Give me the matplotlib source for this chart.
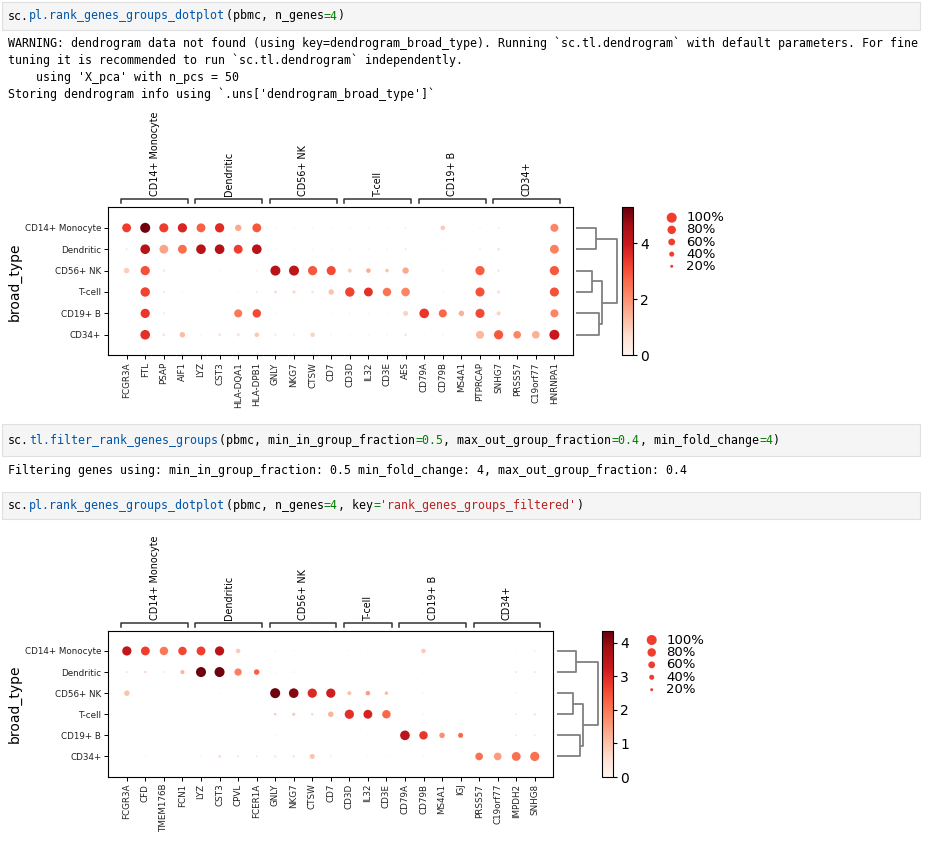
import numpy as np
import matplotlib
matplotlib.use('Agg')
import matplotlib.pyplot as plt
import matplotlib.cm as cm
from matplotlib.colors import Normalize
from matplotlib.patches import Rectangle

W, H = 927, 846

# --- DATA ---
cell_types = ['CD14+ Monocyte', 'Dendritic', 'CD56+ NK', 'T-cell', 'CD19+ B', 'CD34+']

# first dotplot (rank_genes_groups)
genes_all = ['FCGR3A', 'FTL', 'PSAP', 'AIF1', 'LYZ', 'CST3', 'HLA-DQA1', 'HLA-DPB1',
             'GNLY', 'NKG7', 'CTSW', 'CD7', 'CD3D', 'IL32', 'CD3E', 'AES',
             'CD79A', 'CD79B', 'MS4A1', 'PTPRCAP', 'SNHG7', 'PRSS57', 'C19orf77', 'HNRNPA1']
groups_all = [4, 4, 4, 4, 4, 4]
frac_all = [
    [0.85, 1.0, 0.88, 0.9, 0.85, 0.9, 0.55, 0.85, 0.08, 0.08, 0.06, 0.06, 0.08, 0.08, 0.06, 0.1, 0.0, 0.35, 0.0, 0.08, 0.1, 0.0, 0.0, 0.75],
    [0.1, 0.95, 0.85, 0.85, 0.95, 0.95, 0.85, 0.95, 0.08, 0.08, 0.06, 0.06, 0.08, 0.08, 0.08, 0.12, 0.0, 0.06, 0.0, 0.1, 0.18, 0.0, 0.0, 0.85],
    [0.45, 0.9, 0.15, 0.0, 0.0, 0.06, 0.04, 0.09, 1.0, 1.0, 0.9, 0.88, 0.3, 0.35, 0.25, 0.55, 0.0, 0.09, 0.0, 0.9, 0.16, 0.0, 0.0, 0.9],
    [0.04, 0.92, 0.12, 0.08, 0.0, 0.0, 0.06, 0.11, 0.16, 0.22, 0.18, 0.45, 0.92, 0.85, 0.8, 0.82, 0.0, 0.08, 0.0, 0.88, 0.22, 0.0, 0.0, 0.88],
    [0.0, 0.9, 0.12, 0.0, 0.0, 0.04, 0.75, 0.8, 0.06, 0.04, 0.0, 0.06, 0.08, 0.08, 0.06, 0.4, 0.95, 0.75, 0.45, 0.88, 0.3, 0.0, 0.0, 0.75],
    [0.0, 0.95, 0.18, 0.45, 0.08, 0.18, 0.22, 0.35, 0.14, 0.12, 0.35, 0.08, 0.06, 0.08, 0.08, 0.18, 0.06, 0.08, 0.0, 0.75, 0.9, 0.7, 0.7, 1.0],
]
expr_all = [
    [3.3, 5.2, 3.3, 3.7, 2.8, 3.6, 1.6, 2.9, 0.3, 0.3, 0.3, 0.3, 0.3, 0.3, 0.3, 0.4, 0.0, 1.1, 0.0, 0.3, 0.4, 0.0, 0.0, 2.2],
    [0.8, 4.3, 1.7, 2.6, 4.3, 4.4, 3.3, 4.3, 0.3, 0.3, 0.3, 0.3, 0.3, 0.3, 0.3, 0.5, 0.0, 0.3, 0.0, 0.4, 0.6, 0.0, 0.0, 2.3],
    [1.0, 3.0, 0.5, 0.0, 0.0, 0.3, 0.3, 0.4, 4.3, 4.2, 2.9, 3.1, 1.0, 1.6, 1.2, 1.6, 0.0, 0.4, 0.0, 2.8, 0.6, 0.0, 0.0, 2.9],
    [0.3, 3.2, 0.5, 0.3, 0.0, 0.0, 0.3, 0.5, 0.9, 0.8, 0.6, 1.2, 3.2, 3.5, 2.5, 2.2, 0.0, 0.3, 0.0, 3.0, 0.7, 0.0, 0.0, 3.0],
    [0.0, 3.4, 0.5, 0.0, 0.0, 0.3, 2.4, 3.1, 0.3, 0.3, 0.0, 0.3, 0.3, 0.3, 0.3, 0.9, 3.4, 2.7, 1.5, 3.1, 0.9, 0.0, 0.0, 2.2],
    [0.0, 3.5, 0.6, 1.3, 0.3, 0.6, 0.6, 1.1, 0.5, 0.5, 0.9, 0.3, 0.3, 0.3, 0.3, 0.5, 0.3, 0.3, 0.0, 1.4, 2.9, 2.2, 1.5, 4.0],
]
vmax_all = 5.29
cbar_ticks_all = [0, 2, 4]
# linkage rows: (child a, child b, height), leaves 0..5, new nodes from 6
links_all = [[2, 3, 0.38], [0, 1, 0.48], [4, 5, 0.56], [6, 8, 0.64], [7, 9, 1.0]]

# second dotplot (rank_genes_groups_filtered)
genes_filt = ['FCGR3A', 'CFD', 'TMEM176B', 'FCN1', 'LYZ', 'CST3', 'CPVL', 'FCER1A',
              'GNLY', 'NKG7', 'CTSW', 'CD7', 'CD3D', 'IL32', 'CD3E',
              'CD79A', 'CD79B', 'MS4A1', 'IGJ', 'PRSS57', 'C19orf77', 'IMPDH2', 'SNHG8']
groups_filt = [4, 4, 4, 3, 4, 4]
frac_filt = [
    [0.9, 0.85, 0.8, 0.8, 0.85, 0.9, 0.35, 0.0, 0.08, 0.06, 0.04, 0.04, 0.06, 0.06, 0.04, 0.0, 0.35, 0.0, 0.0, 0.0, 0.0, 0.06, 0.09],
    [0.1, 0.14, 0.1, 0.3, 1.0, 1.0, 0.65, 0.45, 0.08, 0.09, 0.04, 0.06, 0.06, 0.06, 0.06, 0.0, 0.06, 0.0, 0.0, 0.0, 0.0, 0.12, 0.12],
    [0.45, 0.0, 0.0, 0.0, 0.0, 0.06, 0.0, 0.0, 1.0, 0.95, 0.9, 0.9, 0.3, 0.35, 0.25, 0.0, 0.08, 0.0, 0.0, 0.0, 0.0, 0.08, 0.04],
    [0.04, 0.0, 0.0, 0.0, 0.0, 0.0, 0.0, 0.0, 0.16, 0.22, 0.18, 0.45, 0.9, 0.85, 0.8, 0.0, 0.08, 0.0, 0.0, 0.0, 0.0, 0.1, 0.14],
    [0.0, 0.0, 0.0, 0.0, 0.0, 0.04, 0.0, 0.0, 0.06, 0.0, 0.0, 0.0, 0.04, 0.06, 0.04, 0.95, 0.8, 0.45, 0.4, 0.0, 0.0, 0.11, 0.1],
    [0.0, 0.06, 0.0, 0.0, 0.08, 0.18, 0.11, 0.11, 0.14, 0.16, 0.4, 0.09, 0.04, 0.06, 0.06, 0.04, 0.06, 0.0, 0.0, 0.7, 0.7, 0.85, 0.9],
]
expr_filt = [
    [3.4, 2.7, 2.0, 2.6, 2.7, 3.5, 0.9, 0.0, 0.3, 0.3, 0.3, 0.3, 0.3, 0.3, 0.3, 0.0, 0.9, 0.0, 0.0, 0.0, 0.0, 0.3, 0.4],
    [0.6, 0.8, 0.5, 1.2, 4.3, 4.3, 1.9, 2.3, 0.3, 0.3, 0.3, 0.3, 0.3, 0.3, 0.3, 0.0, 0.3, 0.0, 0.0, 0.0, 0.0, 0.5, 0.5],
    [1.0, 0.0, 0.0, 0.0, 0.0, 0.3, 0.0, 0.0, 4.3, 4.1, 3.0, 3.2, 1.0, 1.5, 1.1, 0.0, 0.3, 0.0, 0.0, 0.0, 0.0, 0.3, 0.3],
    [0.3, 0.0, 0.0, 0.0, 0.0, 0.0, 0.0, 0.0, 0.9, 0.9, 0.6, 1.2, 2.9, 3.1, 2.2, 0.0, 0.3, 0.0, 0.0, 0.0, 0.0, 0.5, 0.6],
    [0.0, 0.0, 0.0, 0.0, 0.0, 0.3, 0.0, 0.0, 0.3, 0.0, 0.0, 0.0, 0.3, 0.3, 0.3, 3.5, 2.8, 1.7, 2.2, 0.0, 0.0, 0.5, 0.5],
    [0.0, 0.3, 0.0, 0.0, 0.3, 0.6, 0.5, 0.5, 0.5, 0.5, 1.0, 0.3, 0.3, 0.3, 0.3, 0.3, 0.3, 0.0, 0.0, 2.1, 1.5, 2.1, 2.1],
]
vmax_filt = 4.36
cbar_ticks_filt = [0, 1, 2, 3, 4]
links_filt = [[2, 3, 0.385], [0, 1, 0.46], [4, 5, 0.56], [6, 8, 0.625], [7, 9, 1.0]]

legend_pcts = [100, 80, 60, 40, 20]

# notebook cell text: list of (text, colour) segments
BLUE, GREEN, RED, BLACK = '#0055aa', '#008000', '#ba2121', '#000000'
code1 = [('sc.', BLACK), ('pl.rank_genes_groups_dotplot', BLUE), ('(pbmc, n_genes', BLACK),
         ('=4', GREEN), (')', BLACK)]
out1 = ["WARNING: dendrogram data not found (using key=dendrogram_broad_type). Running `sc.tl.dendrogram` with default parameters. For fine",
        "tuning it is recommended to run `sc.tl.dendrogram` independently.",
        "    using 'X_pca' with n_pcs = 50",
        "Storing dendrogram info using `.uns['dendrogram_broad_type']`"]
code2 = [('sc.', BLACK), ('tl.filter_rank_genes_groups', BLUE), ('(pbmc, min_in_group_fraction', BLACK),
         ('=0.5', GREEN), (', max_out_group_fraction', BLACK), ('=0.4', GREEN),
         (', min_fold_change', BLACK), ('=4', GREEN), (')', BLACK)]
out2 = ["Filtering genes using: min_in_group_fraction: 0.5 min_fold_change: 4, max_out_group_fraction: 0.4"]
code3 = [('sc.', BLACK), ('pl.rank_genes_groups_dotplot', BLUE), ('(pbmc, n_genes', BLACK),
         ('=4', GREEN), (', key', BLACK), ('=', GREEN), ("'rank_genes_groups_filtered'", RED), (')', BLACK)]
# ---------------------

SMAX = 52.0          # scatter area for a 100% dot
MONO = 'DejaVu Sans Mono'
MONO_SIZE = 8.4
CHAR_W = 7.02        # px per monospace char at MONO_SIZE
SMALL = 6.3

fig = plt.figure(figsize=(W / 100, H / 100), dpi=100, facecolor='white')


def px_ax(x0, y0, x1, y1):
    return fig.add_axes([x0 / W, 1 - y1 / H, (x1 - x0) / W, (y1 - y0) / H])


def code_cell(y0, y1, segments):
    fig.patches.append(Rectangle((2 / W, 1 - y1 / H), 918 / W, (y1 - y0) / H,
                                 transform=fig.transFigure, facecolor='#f5f5f5',
                                 edgecolor='#e0e0e0', lw=0.8))
    n = 0
    for txt, col in segments:
        fig.text((8 + n * CHAR_W) / W, 1 - (y0 + y1) / 2 / H, txt, family=MONO,
                 fontsize=MONO_SIZE, color=col, va='center', ha='left')
        n += len(txt)


def out_lines(y_first, lines, step=16.9):
    for i, txt in enumerate(lines):
        fig.text(8 / W, 1 - (y_first + i * step) / H, txt, family=MONO,
                 fontsize=MONO_SIZE, color='black', va='center', ha='left')


def draw_dendro(ax, links, n):
    ys = [float(i) for i in range(n)]
    xs = [0.0] * n
    for a, b, h in links:
        a, b = int(a), int(b)
        ax.plot([xs[a], h, h, xs[b]], [ys[a], ys[a], ys[b], ys[b]],
                color='#808080', lw=1.3, clip_on=False, solid_capstyle='butt')
        ys.append((ys[a] + ys[b]) / 2)
        xs.append(h)


def dotplot(genes, groups, frac, expr, vmax, ticks, links, geo):
    x0, y0, x1, y1 = geo['dots']
    n_rows, n_cols = len(cell_types), len(genes)
    ylim = (n_rows - 1 + 0.96, -0.96)

    ax = px_ax(x0, y0, x1, y1)
    xx, yy = np.meshgrid(np.arange(n_cols), np.arange(n_rows))
    f = np.array(frac)
    e = np.array(expr)
    ax.scatter(xx.ravel(), yy.ravel(), s=f.ravel() ** 1.5 * SMAX, c=e.ravel(),
               cmap='Reds', vmin=0, vmax=vmax, edgecolors='none')
    ax.set_xlim(-1, n_cols)
    ax.set_ylim(*ylim)
    ax.set_xticks(range(n_cols))
    ax.set_xticklabels(genes, rotation=90, fontsize=SMALL)
    ax.set_yticks(range(n_rows))
    ax.set_yticklabels(cell_types, fontsize=SMALL)
    ax.set_ylabel('broad_type', fontsize=10, labelpad=2)
    ax.tick_params(length=3, width=0.7, pad=2, labelcolor='#222222')
    for s in ax.spines.values():
        s.set_linewidth(0.8)

    # gene group brackets
    gax = px_ax(x0, y0 - 100, x1, y0)
    gax.set_xlim(-1, n_cols)
    gax.set_ylim(0, 100)
    gax.axis('off')
    start = 0
    for name, size in zip(cell_types, groups):
        left, right = start - 0.3, start + size - 1 + 0.3
        gax.plot([left, left, right, right], [4, 8, 8, 4], color='#333333', lw=1.1, clip_on=False)
        gax.text((left + right) / 2, 11, name, rotation=90, ha='center', va='bottom', fontsize=6.9)
        start += size

    # dendrogram
    dx0, dx1 = geo['dendro']
    dax = px_ax(dx0, y0, dx1, y1)
    draw_dendro(dax, links, n_rows)
    dax.set_xlim(0, 1)
    dax.set_ylim(*ylim)
    dax.axis('off')

    # colorbar
    cx0, cx1, cy1 = geo['cbar']
    cax = px_ax(cx0, y0, cx1, cy1)
    sm = cm.ScalarMappable(norm=Normalize(0, vmax), cmap='Reds')
    cb = fig.colorbar(sm, cax=cax, ticks=ticks)
    cb.outline.set_linewidth(0.8)
    cax.tick_params(labelsize=10, length=3, width=0.8, pad=2)

    # size legend
    lx, ly0, ly1 = geo['legend']
    step = (ly1 - ly0) / 4
    lax = px_ax(lx - 16, ly0 - step / 2, lx + 90, ly1 + step / 2)
    lax.scatter([16] * len(legend_pcts), range(len(legend_pcts)),
                s=[(p / 100) ** 1.5 * SMAX for p in legend_pcts],
                color=cm.Reds(0.62), edgecolors='none')
    for i, p in enumerate(legend_pcts):
        lax.text(30.5, i, f'{p}%', ha='left', va='center', fontsize=9.5)
    lax.set_xlim(0, 106)
    lax.set_ylim(len(legend_pcts) - 0.5, -0.5)
    lax.axis('off')


# notebook cells
code_cell(2, 30, code1)
out_lines(43.5, out1)
code_cell(424, 456, code2)
out_lines(470, out2)
code_cell(491.5, 519, code3)

dotplot(genes_all, groups_all, frac_all, expr_all, vmax_all, cbar_ticks_all, links_all,
        {'dots': (108, 207.3, 573, 355.3), 'dendro': (576, 617.3),
         'cbar': (621.7, 633.3, 355.3), 'legend': (671.7, 217.7, 266.3)})

dotplot(genes_filt, groups_filt, frac_filt, expr_filt, vmax_filt, cbar_ticks_filt, links_filt,
        {'dots': (108.3, 630.7, 553.3, 776.7), 'dendro': (556.7, 598.3),
         'cbar': (602.3, 613.3, 777), 'legend': (651.7, 640, 689.7)})

fig.savefig('out.png', dpi=100, facecolor='white')
